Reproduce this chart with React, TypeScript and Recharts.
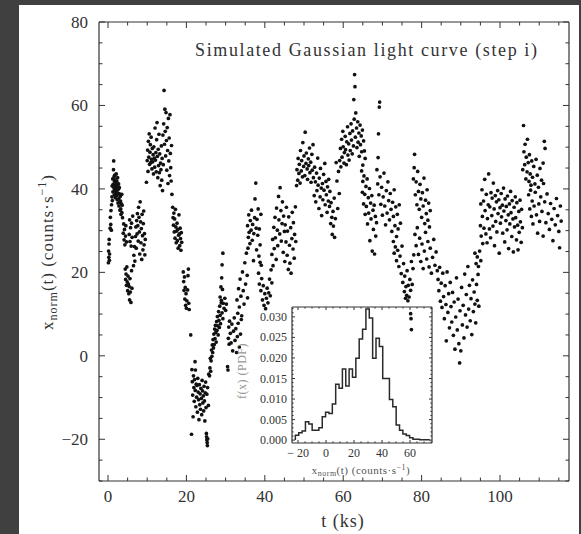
import React from "react";
import { ScatterChart, Scatter, LineChart, Line, XAxis, YAxis } from "recharts";

const INK = "#333";
const FONT = '"Liberation Serif", "Times New Roman", serif';

// light curve samples [t (ks), x_norm (counts/s)]
const SEG_0_10: [number, number][] = [
  [0.1, 22.3], [0.15, 25.1], [0.2, 23.6], [0.25, 26.8], [0.3, 27.9], [0.35, 22.9], [0.4, 24.4],
  [0.55, 30.6], [0.6, 33.2], [0.7, 31.5], [0.75, 34.8], [0.85, 30.1], [0.9, 36.2],
  [1.0, 38.1], [1.05, 40.7], [1.1, 37.2], [1.2, 42.4], [1.25, 39.3], [1.3, 41.1], [1.4, 44.6], [1.45, 46.7],
  [1.5, 40.2], [1.55, 42.9], [1.6, 38.6], [1.65, 41.8], [1.7, 43.3], [1.75, 39.7], [1.8, 40.8], [1.85, 37.9],
  [1.9, 42.2], [1.95, 40.4], [2.0, 39.1], [2.05, 41.5], [2.1, 43.6], [2.15, 38.4], [2.2, 40.1], [2.25, 41.9],
  [2.3, 39.6], [2.35, 37.4], [2.4, 40.9], [2.45, 42.7], [2.5, 38.8], [2.55, 36.6], [2.6, 39.9], [2.7, 41.2],
  [2.75, 37.7], [2.8, 35.9], [2.85, 38.9], [2.9, 40.3], [3.0, 36.8], [3.05, 34.9], [3.1, 38.2], [3.2, 37.1],
  [3.25, 35.2], [3.3, 33.9], [3.4, 36.4], [3.5, 38.7], [3.55, 34.3], [3.6, 36.1], [3.7, 33.1],
  [3.9, 29.4], [4.0, 31.6], [4.1, 27.8], [4.2, 30.3], [4.3, 26.6], [4.45, 28.7], [4.55, 31.2], [4.7, 27.3],
  [4.4, 20.8], [4.5, 18.3], [4.6, 19.6], [4.7, 16.9], [4.8, 21.3], [4.9, 17.7], [5.0, 15.6], [5.1, 19.1],
  [5.2, 17.2], [5.3, 14.9], [5.4, 16.6], [5.5, 13.4], [5.6, 18.5], [5.7, 15.3], [5.85, 12.8], [6.0, 20.4], [6.1, 16.2],
  [5.4, 29.1], [5.5, 32.6], [5.6, 27.4], [5.75, 30.7], [5.9, 26.3], [6.0, 31.8], [6.15, 28.4], [6.3, 33.5],
  [6.5, 21.6], [6.6, 24.1], [6.75, 26.2], [6.85, 22.7], [7.0, 28.6], [7.1, 30.9], [7.2, 25.8], [7.3, 32.4],
  [7.4, 29.2], [7.5, 34.1], [7.6, 31.2], [7.7, 27.5], [7.8, 35.6], [7.9, 33.2], [8.0, 29.7], [8.1, 24.4],
  [8.2, 36.9], [8.3, 32.1], [8.4, 27.1], [8.5, 30.5], [8.6, 23.1], [8.7, 33.9], [8.8, 28.8], [8.9, 25.4],
  [9.0, 31.7], [9.1, 34.7], [9.2, 26.6], [9.3, 29.3], [9.4, 24.2], [9.5, 27.9],
];

const SEG_10_21: [number, number][] = [
  [9.8, 41.6], [10.0, 46.8], [10.1, 49.3], [10.2, 44.2], [10.3, 51.4], [10.4, 47.6], [10.5, 53.2], [10.6, 45.9],
  [10.7, 48.8], [10.8, 50.6], [10.9, 46.3], [11.0, 52.4], [11.1, 47.1], [11.2, 44.8], [11.3, 49.7], [11.4, 46.5],
  [11.5, 48.2], [11.6, 43.6], [11.7, 50.1], [11.8, 47.4], [11.9, 45.2], [12.0, 54.6], [12.1, 46.9], [12.2, 48.7],
  [12.3, 44.1], [12.4, 51.8], [12.5, 55.9], [12.6, 47.8], [12.7, 42.7], [12.8, 49.5], [12.9, 45.6], [13.0, 53.1],
  [13.1, 43.9], [13.2, 48.4], [13.3, 40.8], [13.4, 46.2], [13.5, 44.6], [13.6, 50.3], [13.7, 42.1], [13.8, 47.3],
  [13.9, 39.6], [14.0, 52.9], [14.1, 45.8], [14.2, 55.6], [14.3, 63.6], [14.4, 50.7], [14.5, 59.1], [14.6, 53.8],
  [14.7, 47.9], [14.8, 58.3], [14.9, 51.6], [15.0, 44.5], [15.1, 54.7], [15.2, 49.2], [15.3, 41.3], [15.4, 56.9],
  [15.5, 46.7], [15.6, 52.2], [15.7, 43.2], [15.8, 57.8], [15.9, 48.5], [16.0, 45.1], [16.1, 41.9], [16.2, 50.4], [16.3, 38.7],
  [16.5, 35.6], [16.6, 33.1], [16.7, 31.3], [16.8, 34.2], [16.9, 29.7], [17.0, 32.8], [17.1, 28.2], [17.2, 35.1],
  [17.3, 30.9], [17.4, 27.1], [17.5, 29.9], [17.6, 31.8], [17.7, 27.6], [17.8, 30.3], [17.9, 25.8], [18.0, 28.9],
  [18.1, 33.8], [18.2, 29.2], [18.3, 26.4], [18.4, 30.6], [18.5, 28.1], [18.6, 25.3], [18.7, 29.5], [18.8, 27.2],
  [19.2, 20.1], [19.3, 17.8], [19.4, 15.7], [19.5, 18.9], [19.6, 13.6], [19.7, 16.4], [19.8, 12.1], [19.9, 14.9],
  [20.0, 11.4], [20.1, 13.2], [20.3, 15.8], [20.4, 19.2], [20.5, 20.8], [20.6, 12.6], [20.7, 11.1], [21.1, 5.0],
];

const SEG_21_35: [number, number][] = [
  [21.3, -18.8], [21.4, -3.3], [21.5, -6.2], [21.6, -9.4], [21.7, -14.6], [21.8, -4.8], [21.9, -7.6], [22.0, -10.9],
  [22.1, -5.7], [22.2, -1.4], [22.25, -8.3], [22.3, -3.4], [22.4, -12.2], [22.5, -6.8], [22.6, -9.9], [22.7, -7.1],
  [22.8, -13.5], [22.9, -5.4], [23.0, -8.7], [23.1, -10.5], [23.2, -15.3], [23.3, -6.9], [23.4, -11.7], [23.5, -9.1],
  [23.6, -12.8], [23.7, -7.8], [23.8, -10.2], [23.9, -14.1], [24.0, -5.9], [24.1, -8.4], [24.2, -11.3], [24.3, -9.6],
  [24.4, -13.2], [24.5, -7.3], [24.6, -10.8], [24.7, -15.6], [24.8, -8.9], [24.9, -6.3], [25.0, -12.4], [25.2, -9.2],
  [25.4, -7.6], [25.6, -11.9], [25.7, -4.4],
  [25.1, -18.6], [25.15, -19.4], [25.2, -20.1], [25.3, -20.8], [25.35, -21.5], [25.45, -19.9],
  [25.9, -4.8], [26.0, -2.9], [26.1, -0.6], [26.2, -3.7], [26.3, -1.2], [26.4, 1.4], [26.5, -0.1], [26.6, 2.6],
  [26.7, 0.8], [26.8, 3.9], [26.9, 1.9], [27.0, 5.2], [27.1, 2.7], [27.2, 6.4], [27.3, 4.1], [27.4, 7.3],
  [27.5, 5.6], [27.6, 3.3], [27.7, 8.2], [27.8, 6.1], [27.9, 9.4], [28.0, 7.2], [28.1, 5.0], [28.2, 10.6],
  [28.3, 8.5], [28.4, 6.8], [28.5, 11.9], [28.6, 9.7], [28.7, 7.7], [28.9, 12.7], [29.1, 10.3], [29.3, 8.9],
  [28.6, 14.1], [28.8, 16.5], [28.9, 13.3], [29.0, 18.7], [29.1, 21.8], [29.2, 15.9], [29.3, 24.6], [29.4, 12.6],
  [29.6, 11.4], [29.8, 13.8], [30.0, 10.9], [30.2, 12.4],
  [30.5, -2.6], [30.6, -3.4], [30.7, 4.2], [30.8, 6.9], [30.9, 2.8], [31.0, 8.3], [31.2, 5.4], [31.4, 3.1],
  [31.6, 7.6], [31.8, 1.2], [32.0, 5.9], [32.2, 9.1], [32.4, 3.7], [32.6, 6.5], [32.8, 0.8], [33.0, 4.6],
  [33.2, 7.8], [33.5, 2.1], [33.8, 5.2], [34.0, 8.7],
  [32.9, 13.4], [33.1, 10.2], [33.3, 16.1], [33.5, 11.7], [33.7, 18.4], [33.9, 14.3], [34.1, 9.6], [34.3, 20.1],
  [34.5, 15.6], [34.7, 12.4], [34.9, 22.3], [35.1, 17.2], [35.3, 24.6], [35.5, 19.3], [35.6, 13.9], [35.7, 25.8],
];

const SEG_35_59: [number, number][] = [
  [35.6, 31.2], [35.8, 28.4], [35.9, 33.8], [36.0, 29.6], [36.2, 26.9], [36.3, 32.4], [36.5, 30.1], [36.6, 34.9],
  [36.8, 27.7], [36.9, 31.5], [37.1, 22.8], [37.2, 29.3], [37.4, 33.1], [37.5, 37.6], [37.7, 41.4], [37.8, 30.6],
  [37.9, 25.4], [38.0, 32.7], [38.2, 28.9], [38.3, 35.2], [38.5, 23.9], [38.6, 30.4], [38.8, 26.6], [39.0, 33.9], [39.1, 21.7],
  [38.4, 19.8], [38.6, 17.2], [38.8, 22.4], [39.0, 15.6], [39.2, 18.5], [39.4, 13.4], [39.6, 16.8], [39.8, 12.1],
  [40.0, 14.9], [40.2, 11.3], [40.4, 13.8], [40.6, 16.2], [40.8, 12.7], [41.0, 15.1], [41.2, 18.4], [41.4, 14.4],
  [41.6, 20.6], [41.8, 17.5],
  [41.8, 24.3], [42.0, 27.9], [42.1, 21.6], [42.3, 30.8], [42.4, 25.7], [42.6, 33.2], [42.7, 28.3], [42.9, 23.1],
  [43.0, 35.4], [43.2, 30.1], [43.3, 26.4], [43.5, 38.2], [43.6, 32.6], [43.8, 29.2], [43.9, 40.3], [44.1, 34.8],
  [44.2, 27.5], [44.4, 31.7], [44.5, 36.9], [44.7, 24.8], [44.8, 33.5], [45.0, 29.8],
  [45.1, 22.6], [45.2, 31.4], [45.4, 27.3], [45.5, 35.6], [45.7, 24.1], [45.8, 29.9], [46.0, 20.7], [46.1, 33.3],
  [46.3, 26.5], [46.4, 22.2], [46.6, 30.7], [46.7, 19.8], [46.9, 28.1], [47.0, 34.4], [47.2, 25.6], [47.3, 31.9],
  [47.5, 23.4], [47.6, 29.1], [47.8, 35.7], [47.9, 27.4],
  [48.1, 40.8], [48.2, 44.6], [48.4, 42.1], [48.5, 47.3], [48.7, 43.7], [48.8, 45.9], [49.0, 41.4], [49.1, 49.2],
  [49.3, 44.3], [49.4, 46.8], [49.6, 42.9], [49.7, 51.1], [49.9, 45.4], [50.0, 47.9], [50.2, 43.2], [50.3, 53.6],
  [50.5, 46.1], [50.6, 48.6], [50.8, 44.8], [50.9, 42.3], [51.1, 47.2], [51.2, 45.6], [51.4, 49.8], [51.5, 43.9],
  [51.7, 46.4], [51.8, 41.6], [52.0, 48.3], [52.1, 44.5], [52.3, 50.6], [52.4, 42.7],
  [52.6, 38.4], [52.7, 45.2], [52.9, 41.7], [53.0, 36.9], [53.2, 43.8], [53.3, 39.6], [53.5, 47.4], [53.6, 40.9],
  [53.8, 35.3], [53.9, 42.6], [54.1, 38.1], [54.2, 44.9], [54.4, 40.2], [54.5, 33.6], [54.7, 41.3], [54.8, 37.4],
  [55.0, 43.5], [55.1, 39.7], [55.3, 46.1], [55.4, 36.2], [55.6, 41.8], [55.7, 38.6], [55.9, 34.4], [56.0, 40.5],
  [56.2, 37.1], [56.3, 42.3], [56.5, 35.8], [56.6, 39.4], [56.8, 31.7], [56.9, 36.7], [57.1, 33.2], [57.2, 29.1],
  [57.4, 34.6], [57.5, 31.1], [57.7, 37.8], [57.8, 28.4], [58.0, 32.9], [58.2, 46.3], [58.4, 41.9], [58.6, 35.3],
  [58.8, 44.2], [59.0, 38.9],
];

const SEG_59_84: [number, number][] = [
  [59.1, 46.8], [59.3, 49.7], [59.4, 45.3], [59.6, 51.9], [59.7, 47.6], [59.9, 53.8], [60.0, 50.1], [60.2, 46.2],
  [60.3, 48.7], [60.5, 52.6], [60.6, 49.4], [60.8, 45.8], [60.9, 51.3], [61.1, 54.9], [61.2, 48.1], [61.4, 50.8],
  [61.5, 46.9], [61.7, 53.3], [61.8, 49.2], [62.0, 55.6], [62.1, 51.7], [62.3, 48.4], [62.4, 53.9], [62.6, 50.3],
  [62.7, 61.4], [62.8, 56.7], [62.9, 67.4], [63.0, 64.5], [63.1, 52.4], [63.2, 58.2], [63.4, 54.6], [63.5, 49.9],
  [63.7, 56.1], [63.8, 51.2], [64.0, 53.4], [64.1, 47.8], [64.3, 55.3], [64.4, 50.6], [64.6, 52.7], [64.7, 48.9],
  [64.9, 54.1], [65.0, 45.7], [65.2, 51.5], [65.4, 49.1], [65.6, 47.3],
  [64.7, 44.3], [64.9, 39.2], [65.0, 41.8], [65.2, 36.4], [65.3, 43.1], [65.5, 38.7], [65.6, 33.9], [65.8, 40.6],
  [65.9, 35.8], [66.1, 42.4], [66.2, 31.6], [66.4, 37.9], [66.5, 34.2], [66.7, 40.1], [66.8, 27.6], [67.0, 36.6],
  [67.1, 32.8], [67.3, 38.4], [67.4, 25.1], [67.6, 34.9], [67.7, 30.3], [67.9, 36.1], [68.0, 24.4], [68.2, 33.4],
  [68.3, 28.7], [68.5, 31.9],
  [69.0, 53.2], [69.2, 59.6], [69.3, 60.8],
  [68.6, 44.6], [68.8, 41.2], [68.9, 47.5], [69.1, 38.6], [69.4, 42.9], [69.6, 36.3], [69.8, 40.4], [70.0, 33.7],
  [70.2, 38.1], [70.4, 43.8], [70.6, 35.9], [70.8, 31.4], [71.0, 39.6], [71.2, 34.2], [71.4, 41.7], [71.6, 37.2],
  [71.8, 32.6], [72.0, 38.9], [72.2, 35.1], [72.4, 29.8], [72.6, 36.8], [72.8, 33.4], [73.0, 39.8], [73.2, 31.2],
  [73.4, 35.7], [73.6, 28.6], [73.8, 33.9], [74.0, 30.4], [74.3, 36.2], [74.6, 31.8],
  [72.8, 27.4], [73.0, 24.6], [73.3, 26.1], [73.6, 22.8], [73.9, 25.3], [74.2, 21.4], [74.5, 23.9], [74.8, 19.7],
  [75.0, 26.3], [75.2, 17.6], [75.4, 22.1], [75.6, 15.4], [75.7, 19.1], [75.9, 13.8], [76.0, 16.6], [76.2, 14.5],
  [76.3, 20.4], [76.5, 13.2], [76.6, 16.9], [76.8, 14.1], [77.0, 18.3], [77.2, 15.7], [77.4, 22.6], [77.6, 17.1],
  [77.8, 20.9], [78.0, 24.2],
  [77.2, 10.1], [77.3, 8.9], [77.4, 6.3],
  [77.9, 42.4], [78.1, 45.1], [78.2, 48.3], [78.4, 38.6], [78.6, 41.7], [78.8, 36.2], [79.0, 44.2], [79.2, 39.4],
  [79.4, 35.1], [79.6, 41.1], [79.8, 37.6], [80.0, 33.2], [80.2, 39.1], [80.4, 35.9], [80.6, 42.6], [80.8, 31.7],
  [81.0, 37.3], [81.2, 34.1], [81.4, 39.8], [81.6, 32.5], [81.8, 36.6], [82.0, 30.9], [82.2, 34.8],
  [78.3, 29.1], [78.6, 26.4], [78.9, 30.7], [79.2, 24.3], [79.5, 28.2], [79.8, 22.6], [80.1, 26.8], [80.4, 20.9],
  [80.7, 25.1], [81.0, 29.6], [81.3, 23.2], [81.6, 27.4], [81.9, 21.3], [82.2, 25.8], [82.5, 19.8], [82.8, 23.6],
  [83.1, 27.9], [83.4, 21.7], [83.7, 24.9], [84.0, 20.4],
];

const SEG_84_116: [number, number][] = [
  [84.2, 18.3], [84.4, 15.6], [84.6, 21.2], [84.8, 13.1], [85.0, 17.4], [85.2, 11.6], [85.4, 19.8], [85.6, 14.2],
  [85.8, 8.9], [86.0, 16.8], [86.2, 12.3], [86.3, 3.6], [86.5, 20.1], [86.7, 10.4], [86.9, 14.9], [87.1, 6.7],
  [87.3, 17.6], [87.5, 11.8], [87.7, 8.1], [87.9, 15.2], [88.1, 4.9], [88.3, 12.9], [88.5, 1.6], [88.7, 9.3],
  [88.9, 18.7], [89.1, 6.2], [89.3, 13.6], [89.5, 2.9], [89.7, -1.7], [89.8, 10.8], [90.0, 1.2], [90.2, 16.4],
  [90.4, 7.4], [90.6, 12.1], [90.8, 4.3], [91.0, 19.6], [91.2, 9.8], [91.4, 14.7], [91.6, 6.9], [91.8, 21.4],
  [92.0, 11.2], [92.2, 16.9], [92.4, 8.4], [92.6, 13.7], [92.8, 5.1], [93.0, 18.2], [93.2, 10.6], [93.4, 15.3],
  [93.6, 12.4], [93.8, 7.9], [94.0, 17.1], [94.2, 13.3], [94.4, 19.5], [94.6, 11.9],
  [93.6, 24.6], [93.9, 22.1], [94.2, 23.7], [94.5, 21.4], [94.8, 25.1], [95.1, 22.8],
  [95.0, 31.2], [95.1, 36.4], [95.2, 28.7], [95.4, 39.8], [95.5, 33.4], [95.6, 26.9], [95.8, 37.1], [95.9, 30.6],
  [96.1, 42.3], [96.2, 34.8], [96.4, 29.2], [96.5, 38.7], [96.7, 27.1], [96.8, 32.9], [97.0, 36.2], [97.1, 43.6],
  [97.3, 30.4], [97.4, 35.7], [97.6, 28.3], [97.7, 39.1], [97.9, 33.6], [98.0, 37.8], [98.2, 31.1], [98.3, 41.4],
  [98.5, 35.2], [98.6, 26.4], [98.8, 38.4], [98.9, 32.2], [99.1, 36.9], [99.2, 29.7], [99.4, 39.6], [99.5, 34.1],
  [99.7, 37.4], [99.8, 24.6], [100.0, 35.5], [100.1, 31.8], [100.3, 38.9], [100.4, 33.3], [100.6, 36.1], [100.7, 29.4],
  [100.9, 40.2], [101.0, 34.7], [101.2, 27.3], [101.3, 37.6], [101.5, 32.4], [101.6, 35.8], [101.8, 30.2], [101.9, 38.3],
  [102.1, 33.8], [102.2, 25.7], [102.4, 36.4], [102.5, 31.6], [102.7, 39.4], [102.8, 34.3], [103.0, 28.6], [103.1, 37.2],
  [103.3, 32.8], [103.4, 24.9], [103.6, 35.6], [103.7, 30.9], [103.9, 38.1], [104.0, 33.1], [104.2, 27.8], [104.3, 36.7],
  [104.5, 31.3], [104.6, 25.4], [104.8, 34.6], [104.9, 29.6], [105.1, 37.3], [105.2, 32.1], [105.4, 27.2], [105.5, 35.1], [105.7, 30.7],
  [105.8, 44.6], [106.0, 55.2], [106.1, 48.9], [106.3, 45.8], [106.4, 50.7], [106.6, 42.4], [106.7, 47.6], [106.9, 44.1],
  [107.0, 51.9], [107.2, 46.3], [107.4, 41.8], [107.5, 48.2], [107.7, 43.6], [107.9, 40.9], [108.1, 46.7], [108.3, 42.8],
  [108.6, 45.4], [108.9, 41.2], [109.2, 47.1], [109.5, 43.3], [109.8, 40.4], [110.2, 44.9], [110.6, 42.1], [111.0, 46.2],
  [111.3, 51.4], [111.5, 49.7], [111.1, 41.3],
  [107.3, 38.6], [107.6, 35.2], [107.8, 39.7], [108.0, 33.4], [108.2, 37.1], [108.4, 31.6], [108.7, 35.9], [109.0, 39.2],
  [109.3, 33.8], [109.6, 29.4], [109.9, 36.4], [110.1, 32.2], [110.4, 38.1], [110.7, 34.6], [111.0, 28.7], [111.4, 36.9],
  [111.7, 31.9], [112.0, 38.8], [112.3, 34.1], [112.6, 30.3], [112.9, 36.5], [113.2, 32.7], [113.5, 27.6], [113.8, 35.3],
  [114.1, 31.4], [114.4, 37.7], [114.7, 33.6], [115.0, 29.8], [115.2, 25.9], [115.4, 35.9], [115.6, 32.3],
];

const T_TICKS = [0, 5, 10, 15, 20, 25, 30, 35, 40, 45, 50, 55, 60, 65, 70, 75, 80, 85, 90, 95, 100, 105, 110, 115];
const T_LABELS = [0, 20, 40, 60, 80, 100];
const X_TICKS = [-30, -25, -20, -15, -10, -5, 0, 5, 10, 15, 20, 25, 30, 35, 40, 45, 50, 55, 60, 65, 70, 75, 80];
const X_LABELS = [-20, 0, 20, 40, 60, 80];

// inset histogram of x_norm: probability density per bin
const PDF_VALUES = [
  0.0012, 0.0018, 0.0022, 0.0045, 0.0039, 0.0024, 0.0024, 0.003, 0.0057, 0.0068,
  0.0065, 0.0088, 0.0136, 0.0126, 0.0173, 0.0132, 0.0173, 0.0153, 0.0199, 0.0246,
  0.027, 0.0319, 0.0297, 0.0199, 0.0248, 0.0228, 0.015, 0.015, 0.0099, 0.0081,
  0.0037, 0.0024, 0.0015, 0.0011, 0.0006, 0.0002, 0.0002, 0.0001, 0.0001, 0.0001,
];
const PDF_START = -21.9;
const PDF_BIN = 2.4;
const PDF_X_TICKS = [-20, -15, -10, -5, 0, 5, 10, 15, 20, 25, 30, 35, 40, 45, 50, 55, 60, 65, 70, 75];
const PDF_X_LABELS = [-20, 0, 20, 40, 60];
const PDF_Y_TICKS = [
  0, 0.001, 0.002, 0.003, 0.004, 0.005, 0.006, 0.007, 0.008, 0.009, 0.01, 0.011, 0.012, 0.013, 0.014, 0.015, 0.016,
  0.017, 0.018, 0.019, 0.02, 0.021, 0.022, 0.023, 0.024, 0.025, 0.026, 0.027, 0.028, 0.029, 0.03, 0.031, 0.032,
];
const PDF_Y_LABELS = [0, 0.005, 0.01, 0.015, 0.02, 0.025, 0.03];

const points = [...SEG_0_10, ...SEG_10_21, ...SEG_21_35, ...SEG_35_59, ...SEG_59_84, ...SEG_84_116].map(
  ([t, v]) => ({ t, v })
);

const histData = [
  { x: PDF_START, y: 0 },
  ...PDF_VALUES.map((y, i) => ({ x: PDF_START + i * PDF_BIN, y })),
  { x: PDF_START + PDF_VALUES.length * PDF_BIN, y: PDF_VALUES[PDF_VALUES.length - 1] },
];

type Side = "bottom" | "top" | "left" | "right";

function frameTick(
  side: Side,
  labels: number[],
  major: number,
  minor: number,
  opts: { size?: number; gap?: number; fmt?: (v: number) => string } = {}
) {
  const { size = 17, gap = 10, fmt = (v: number) => String(v) } = opts;
  const textStyle = { fontFamily: FONT, fontSize: size };
  return (p: any) => {
    const { x, y, payload } = p;
    const v = payload.value;
    const isMajor = labels.some((l) => Math.abs(l - v) < 1e-9);
    const len = isMajor ? major : minor;
    let line;
    if (side === "bottom") line = <line x1={x} y1={y} x2={x} y2={y - len} stroke={INK} />;
    else if (side === "top") line = <line x1={x} y1={y} x2={x} y2={y + len} stroke={INK} />;
    else if (side === "left") line = <line x1={x} y1={y} x2={x + len} y2={y} stroke={INK} />;
    else line = <line x1={x} y1={y} x2={x - len} y2={y} stroke={INK} />;
    let label = null;
    if (isMajor && side === "bottom")
      label = (
        <text x={x} y={y + gap} textAnchor="middle" style={textStyle} fill={INK}>
          {fmt(v)}
        </text>
      );
    if (isMajor && side === "left")
      label = (
        <text x={x - gap} y={y + size * 0.34} textAnchor="end" style={textStyle} fill={INK}>
          {fmt(v)}
        </text>
      );
    return (
      <g>
        {line}
        {label}
      </g>
    );
  };
}

const minus = (v: number) => String(v).replace("-", "\u2212");
const insetMinus = (v: number) => String(v).replace("-", "\u2212 ");

const Dot = (p: any) => <circle cx={p.cx} cy={p.cy} r={1.85} fill="#111" />;
const Nothing = () => <g />;

const axisLine = { stroke: INK, strokeWidth: 1.2 };

export default function App() {
  return (
    <div style={{ position: "absolute", left: 0, top: 0, width: 581, height: 534, background: "#404040", overflow: "hidden" }}>
      <div style={{ position: "absolute", left: 19, top: 5, width: 560, height: 529, background: "#fff" }} />
      <div style={{ position: "absolute", left: 0, top: 0 }}>
        <ScatterChart width={581} height={534} margin={{ top: 21, right: 11, bottom: 0, left: 0 }}>
          <XAxis
            xAxisId="b"
            type="number"
            dataKey="t"
            domain={[-2.3, 117.6]}
            ticks={T_TICKS}
            interval={0}
            height={53}
            tickSize={0}
            tickMargin={0}
            tickLine={false}
            axisLine={axisLine}
            tick={frameTick("bottom", T_LABELS, 6, 3.5, { gap: 21, fmt: minus })}
          />
          <XAxis
            xAxisId="t"
            orientation="top"
            type="number"
            dataKey="t"
            domain={[-2.3, 117.6]}
            ticks={T_TICKS}
            interval={0}
            height={1}
            tickSize={0}
            tickMargin={0}
            tickLine={false}
            axisLine={axisLine}
            tick={frameTick("top", T_LABELS, 6, 3.5)}
          />
          <YAxis
            yAxisId="l"
            type="number"
            dataKey="v"
            domain={[-30, 80]}
            ticks={X_TICKS}
            interval={0}
            width={99}
            tickSize={0}
            tickMargin={0}
            tickLine={false}
            axisLine={axisLine}
            tick={frameTick("left", X_LABELS, 6, 3.5, { gap: 11, fmt: minus })}
          />
          <YAxis
            yAxisId="r"
            orientation="right"
            type="number"
            dataKey="v"
            domain={[-30, 80]}
            ticks={X_TICKS}
            interval={0}
            width={1}
            tickSize={0}
            tickMargin={0}
            tickLine={false}
            axisLine={axisLine}
            tick={frameTick("right", X_LABELS, 6, 3.5)}
          />
          <Scatter xAxisId="t" yAxisId="r" data={points} shape={Nothing} isAnimationActive={false} />
          <Scatter xAxisId="b" yAxisId="l" data={points} shape={Dot} isAnimationActive={false} />
        </ScatterChart>
      </div>

      <div style={{ position: "absolute", left: 230, top: 300 }}>
        <LineChart width={210} height={180} data={histData} margin={{ top: 6, right: 7, bottom: 0, left: 0 }}>
          <XAxis
            xAxisId="b"
            type="number"
            dataKey="x"
            domain={[-24.3, 75.7]}
            ticks={PDF_X_TICKS}
            interval={0}
            height={37}
            tickSize={0}
            tickMargin={0}
            tickLine={false}
            axisLine={axisLine}
            tick={frameTick("bottom", PDF_X_LABELS, 3, 1.6, { size: 12, gap: 14, fmt: insetMinus })}
          />
          <XAxis
            xAxisId="t"
            orientation="top"
            type="number"
            dataKey="x"
            domain={[-24.3, 75.7]}
            ticks={PDF_X_TICKS}
            interval={0}
            height={1}
            tickSize={0}
            tickMargin={0}
            tickLine={false}
            axisLine={axisLine}
            tick={frameTick("top", PDF_X_LABELS, 3, 1.6)}
          />
          <YAxis
            yAxisId="l"
            type="number"
            domain={[-0.0007, 0.0324]}
            ticks={PDF_Y_TICKS}
            interval={0}
            width={62}
            tickSize={0}
            tickMargin={0}
            tickLine={false}
            axisLine={axisLine}
            tick={frameTick("left", PDF_Y_LABELS, 3, 1.6, { size: 12, gap: 5, fmt: (v) => v.toFixed(3) })}
          />
          <YAxis
            yAxisId="r"
            orientation="right"
            type="number"
            domain={[-0.0007, 0.0324]}
            ticks={PDF_Y_TICKS}
            interval={0}
            width={1}
            tickSize={0}
            tickMargin={0}
            tickLine={false}
            axisLine={axisLine}
            tick={frameTick("right", PDF_Y_LABELS, 3, 1.6)}
          />
          <Line xAxisId="t" yAxisId="r" dataKey="y" stroke="none" dot={false} isAnimationActive={false} />
          <Line
            xAxisId="b"
            yAxisId="l"
            type="stepAfter"
            dataKey="y"
            stroke="#2a2a2a"
            strokeWidth={1.5}
            dot={false}
            isAnimationActive={false}
          />
        </LineChart>
      </div>

      <svg width={581} height={534} style={{ position: "absolute", left: 0, top: 0, pointerEvents: "none" }}>
        <text x={195} y={56} fontSize={18} fontFamily={FONT} fill={INK} textLength={342} lengthAdjust="spacing">
          Simulated Gaussian light curve (step i)
        </text>
        <text x={343} y={527} textAnchor="middle" fontSize={18} fontFamily={FONT} fill={INK} letterSpacing={1}>
          t (ks)
        </text>
        <text
          transform="translate(53,252) rotate(-90)"
          textAnchor="middle"
          fontSize={17}
          fontFamily={FONT}
          fill={INK}
          letterSpacing={1}
        >
          x<tspan fontSize={12} dy={4}>norm</tspan>
          <tspan dy={-4}>(t) (counts·s</tspan>
          <tspan fontSize={12} dy={-7}>{"\u22121"}</tspan>
          <tspan dy={7}>)</tspan>
        </text>
        <text
          transform="translate(246,371) rotate(-90)"
          textAnchor="middle"
          fontSize={12}
          fontFamily={FONT}
          fill="#999"
          letterSpacing={0.5}
        >
          f(x) (PDF)
        </text>
        <text x={361} y={474} textAnchor="middle" fontSize={11} fontFamily={FONT} fill="#555" letterSpacing={0.5}>
          x<tspan fontSize={8} dy={2}>norm</tspan>
          <tspan dy={-2}>(t) (counts·s</tspan>
          <tspan fontSize={8} dy={-4}>{"\u22121"}</tspan>
          <tspan dy={4}>)</tspan>
        </text>
      </svg>
    </div>
  );
}
